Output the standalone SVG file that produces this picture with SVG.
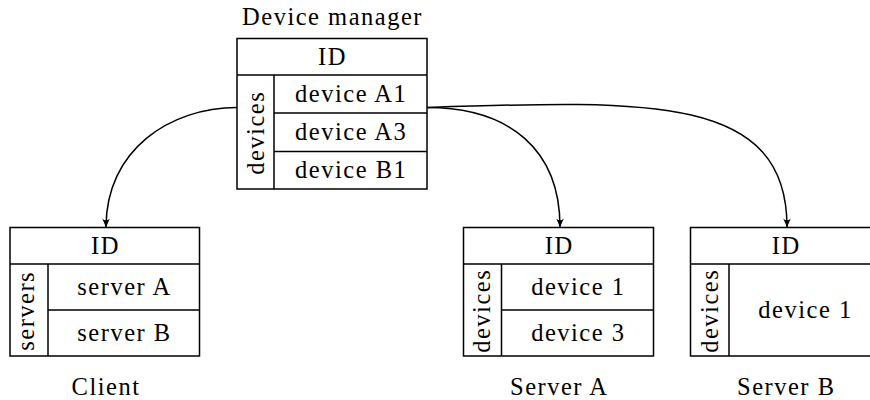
<svg xmlns="http://www.w3.org/2000/svg" width="870" height="400" viewBox="0 0 870 400">
<defs>
<style>
text{font-family:"Liberation Serif","Times New Roman",serif;font-size:24.5px;fill:#000;text-anchor:middle;letter-spacing:1.5px}
.box{fill:#fff;stroke:#000;stroke-width:1.5}
.ln{stroke:#000;stroke-width:1.5;fill:none}
.edge{stroke:#000;stroke-width:1.5;fill:none;marker-end:url(#arr)}
</style>
<marker id="arr" viewBox="0 0 12 10" refX="11.5" refY="5" markerWidth="9" markerHeight="8" markerUnits="userSpaceOnUse" orient="auto">
<path d="M0,0 Q5,5 0,10 L12,5 Z" fill="#000"/>
</marker>
</defs>
<g id="edges">
<path class="edge" d="M237,107.5 C170,107.5 106,150 106,227"/>
<path class="edge" d="M427,107.5 C510,107.5 560,150 560,227"/>
<path class="edge" d="M427,107.5 C650,100 787,95 787,227"/>
</g>
<g id="device-manager">
<text x="332.5" y="25">Device manager</text>
<rect class="box" x="237" y="38.5" width="190" height="150.5"/>
<path class="ln" d="M237,75H427M274,75V189M274,113H427M274,151.5H427"/>
<text x="332.5" y="64.5">ID</text>
<text transform="translate(263.5,132.8) rotate(-90)">devices</text>
<text x="351.2" y="101.8">device A1</text>
<text x="351.2" y="140">device A3</text>
<text x="351.2" y="178">device B1</text>
</g>
<g id="client">
<rect class="box" x="10" y="227.5" width="189.5" height="128.5"/>
<path class="ln" d="M10,264H199.5M48,264V356M48,310H199.5"/>
<text x="105.5" y="253.5">ID</text>
<text transform="translate(33.8,310.8) rotate(-90)">servers</text>
<text x="124.5" y="294.5">server A</text>
<text x="124.5" y="340.5">server B</text>
<text x="106" y="395">Client</text>
</g>
<g id="server-a">
<rect class="box" x="463.5" y="227.5" width="190" height="128.5"/>
<path class="ln" d="M463.5,264H653.5M501.5,264V356M501.5,310H653.5"/>
<text x="559.3" y="253.5">ID</text>
<text transform="translate(490.3,310.8) rotate(-90)">devices</text>
<text x="578.3" y="294.5">device 1</text>
<text x="578.3" y="340.5">device 3</text>
<text x="559.3" y="395">Server A</text>
</g>
<g id="server-b">
<rect class="box" x="690.5" y="227.5" width="190" height="128.5"/>
<path class="ln" d="M690.5,264H880.5M729,264V356"/>
<text x="786.3" y="253.5">ID</text>
<text transform="translate(717.5,310.8) rotate(-90)">devices</text>
<text x="805.5" y="317.8">device 1</text>
<text x="786.3" y="395">Server B</text>
</g>
</svg>
